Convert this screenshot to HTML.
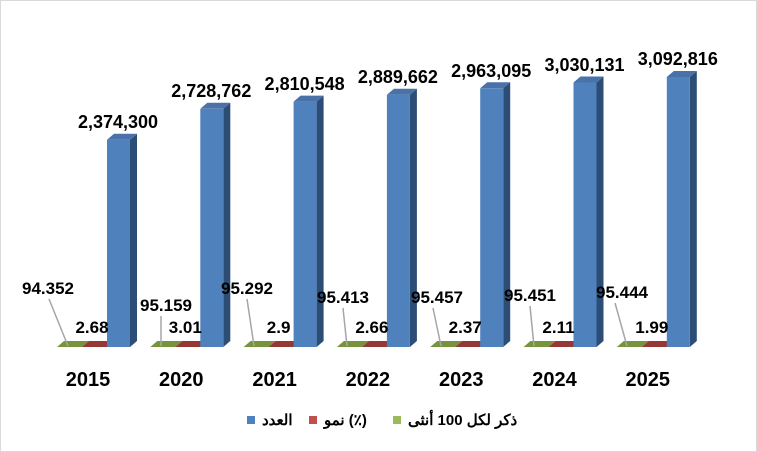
<!DOCTYPE html><html><head><style>body{margin:0;background:#fff}svg{display:block}text{font-family:"Liberation Sans",sans-serif;font-weight:bold}</style></head><body>
<svg width="757" height="452" xmlns="http://www.w3.org/2000/svg">
<rect x="0.5" y="0.5" width="756" height="451" fill="#fff" stroke="#d9d9d9"/>
<defs>
<g id="floor">
<polygon points="57,347 82,347 89,341 64,341" fill="#77933c"/>
<polygon points="82,347 107,347 114,341 89,341" fill="#953735"/>
</g>
</defs>

<g transform="translate(0,0)"><use href="#floor"/>
<polygon points="130,139.7 137,133.7 137,341 130,347" fill="#2c4d75"/><polygon points="107,139.7 114,133.7 137,133.7 130,139.7" fill="#4a72a8"/><rect x="107" y="139.7" width="23" height="207.3" fill="#4f81bd"/>
<text x="118" y="128" font-size="18" text-anchor="middle">2,374,300</text>
<text x="88" y="386" font-size="20" text-anchor="middle">2015</text>
<text x="92" y="333" font-size="17" text-anchor="middle">2.68</text></g>

<g transform="translate(93.3,0)"><use href="#floor"/>
<polygon points="130,108.8 137,102.8 137,341 130,347" fill="#2c4d75"/><polygon points="107,108.8 114,102.8 137,102.8 130,108.8" fill="#4a72a8"/><rect x="107" y="108.8" width="23" height="238.2" fill="#4f81bd"/>
<text x="118" y="97" font-size="18" text-anchor="middle">2,728,762</text>
<text x="88" y="386" font-size="20" text-anchor="middle">2020</text>
<text x="92" y="333" font-size="17" text-anchor="middle">3.01</text></g>

<g transform="translate(186.6,0)"><use href="#floor"/>
<polygon points="130,101.6 137,95.6 137,341 130,347" fill="#2c4d75"/><polygon points="107,101.6 114,95.6 137,95.6 130,101.6" fill="#4a72a8"/><rect x="107" y="101.6" width="23" height="245.4" fill="#4f81bd"/>
<text x="118" y="90" font-size="18" text-anchor="middle">2,810,548</text>
<text x="88" y="386" font-size="20" text-anchor="middle">2021</text>
<text x="92" y="333" font-size="17" text-anchor="middle">2.9</text></g>

<g transform="translate(279.9,0)"><use href="#floor"/>
<polygon points="130,94.7 137,88.7 137,341 130,347" fill="#2c4d75"/><polygon points="107,94.7 114,88.7 137,88.7 130,94.7" fill="#4a72a8"/><rect x="107" y="94.7" width="23" height="252.3" fill="#4f81bd"/>
<text x="118" y="83" font-size="18" text-anchor="middle">2,889,662</text>
<text x="88" y="386" font-size="20" text-anchor="middle">2022</text>
<text x="92" y="333" font-size="17" text-anchor="middle">2.66</text></g>

<g transform="translate(373.2,0)"><use href="#floor"/>
<polygon points="130,88.3 137,82.3 137,341 130,347" fill="#2c4d75"/><polygon points="107,88.3 114,82.3 137,82.3 130,88.3" fill="#4a72a8"/><rect x="107" y="88.3" width="23" height="258.7" fill="#4f81bd"/>
<text x="118" y="77" font-size="18" text-anchor="middle">2,963,095</text>
<text x="88" y="386" font-size="20" text-anchor="middle">2023</text>
<text x="92" y="333" font-size="17" text-anchor="middle">2.37</text></g>

<g transform="translate(466.5,0)"><use href="#floor"/>
<polygon points="130,82.5 137,76.5 137,341 130,347" fill="#2c4d75"/><polygon points="107,82.5 114,76.5 137,76.5 130,82.5" fill="#4a72a8"/><rect x="107" y="82.5" width="23" height="264.5" fill="#4f81bd"/>
<text x="118" y="71" font-size="18" text-anchor="middle">3,030,131</text>
<text x="88" y="386" font-size="20" text-anchor="middle">2024</text>
<text x="92" y="333" font-size="17" text-anchor="middle">2.11</text></g>

<g transform="translate(559.8,0)"><use href="#floor"/>
<polygon points="130,77 137,71 137,341 130,347" fill="#2c4d75"/><polygon points="107,77 114,71 137,71 130,77" fill="#4a72a8"/><rect x="107" y="77" width="23" height="270" fill="#4f81bd"/>
<text x="118" y="65" font-size="18" text-anchor="middle">3,092,816</text>
<text x="88" y="386" font-size="20" text-anchor="middle">2025</text>
<text x="92" y="333" font-size="17" text-anchor="middle">1.99</text></g>

<g font-size="17" text-anchor="middle">
<text x="48" y="294">94.352</text><line x1="49" y1="299" x2="68" y2="346" stroke="#a6a6a6" stroke-width="1.5"/>
<text x="166" y="311">95.159</text><line x1="161" y1="316" x2="161" y2="346" stroke="#a6a6a6" stroke-width="1.5"/>
<text x="247" y="294">95.292</text><line x1="247" y1="299" x2="254" y2="346" stroke="#a6a6a6" stroke-width="1.5"/>
<text x="343" y="303">95.413</text><line x1="343" y1="308" x2="347" y2="346" stroke="#a6a6a6" stroke-width="1.5"/>
<text x="437" y="303">95.457</text><line x1="433" y1="308" x2="441" y2="346" stroke="#a6a6a6" stroke-width="1.5"/>
<text x="530" y="301">95.451</text><line x1="530" y1="306" x2="534" y2="346" stroke="#a6a6a6" stroke-width="1.5"/>
<text x="622" y="298">95.444</text><line x1="615" y1="303" x2="627" y2="346" stroke="#a6a6a6" stroke-width="1.5"/>
</g>

<rect x="247" y="416" width="8" height="8" fill="#4f81bd"/><text x="262" y="425" font-size="15">العدد</text>
<rect x="309" y="416" width="8" height="8" fill="#c0504d"/><text x="324" y="425" font-size="15">نمو (٪)</text>
<rect x="393" y="416" width="8" height="8" fill="#9bbb59"/><text x="408" y="425" font-size="15">ذكر لكل 100 أنثى</text>
</svg></body></html>
